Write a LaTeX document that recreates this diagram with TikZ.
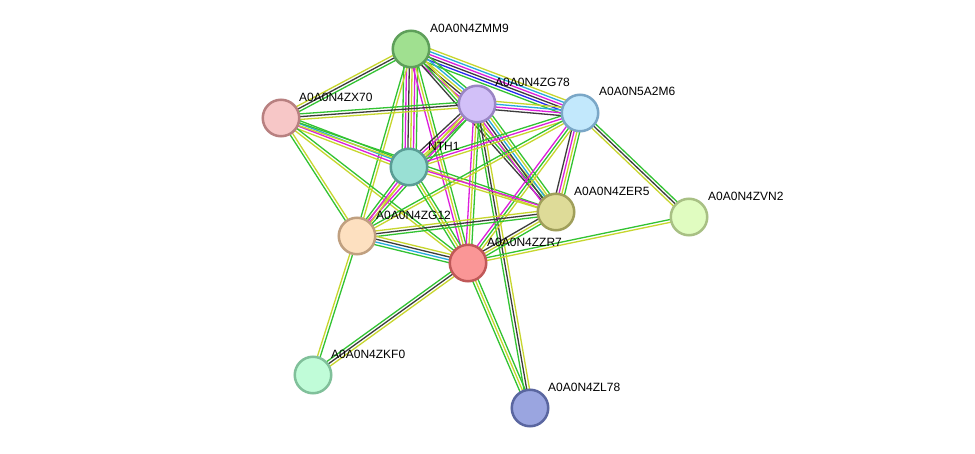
\documentclass[tikz,border=0pt]{standalone}
\usepackage{fontspec}
\setmainfont{Liberation Sans}
\usetikzlibrary{calc}
\pgfdeclarelayer{bg}
\pgfdeclarelayer{paper}
\pgfsetlayers{paper,bg,main}
\definecolor{tm}{RGB}{199,214,45}
\definecolor{gr}{RGB}{50,195,50}
\definecolor{bk}{RGB}{60,60,60}
\definecolor{mg}{RGB}{220,30,220}
\definecolor{cy}{RGB}{40,170,220}
\definecolor{bl}{RGB}{40,40,240}
\newcounter{ecnt}
\newcommand\stredge[3]{%
  \setcounter{ecnt}{0}%
  \foreach \c in {#3}{\stepcounter{ecnt}}%
  \edef\ntot{\theecnt}%
  \foreach \c [count=\i] in {#3}{%
    \pgfmathsetmacro\off{(\i-(\ntot+1)/2)*2.8}%
    \draw[\c, edgeline] ($(#1.center)!\off pt!90:(#2.center)$) -- ($(#2.center)!\off pt!-90:(#1.center)$);
  }%
}
\tikzset{
  edgeline/.style={line width=1.3pt},
  prot/.style={circle, minimum size=36.5pt, inner sep=0pt, line width=2.5pt},
  plabel/.style={anchor=west, inner sep=0pt, font=\fontsize{12}{14}\selectfont}
}
\begin{document}
\begin{tikzpicture}[x=1pt,y=-1pt]
\begin{pgfonlayer}{paper}
\fill[white] (0,0) rectangle (975,454);
\end{pgfonlayer}
\useasboundingbox (0,0) rectangle (975,454);
% nodes
\node[prot, fill={rgb,255:red,160;green,224;blue,144}, draw={rgb,255:red,94;green,159;blue,90}] (M) at (411,49) {};
\node[prot, fill={rgb,255:red,210;green,192;blue,248}, draw={rgb,255:red,154;green,133;blue,196}] (G78) at (477,104) {};
\node[prot, fill={rgb,255:red,194;green,232;blue,252}, draw={rgb,255:red,122;green,167;blue,199}] (A6) at (580,113) {};
\node[prot, fill={rgb,255:red,247;green,199;blue,199}, draw={rgb,255:red,184;green,128;blue,128}] (X70) at (281,118) {};
\node[prot, fill={rgb,255:red,153;green,224;blue,212}, draw={rgb,255:red,90;green,157;blue,149}] (N) at (409,167) {};
\node[prot, fill={rgb,255:red,222;green,219;blue,152}, draw={rgb,255:red,160;green,159;blue,90}] (E5) at (556,212) {};
\node[prot, fill={rgb,255:red,224;green,252;blue,192}, draw={rgb,255:red,168;green,192;blue,132}] (V2) at (689,217) {};
\node[prot, fill={rgb,255:red,253;green,224;blue,192}, draw={rgb,255:red,192;green,160;blue,128}] (G12) at (357,236) {};
\node[prot, fill={rgb,255:red,250;green,150;blue,150}, draw={rgb,255:red,192;green,88;blue,88}] (R7) at (468,263) {};
\node[prot, fill={rgb,255:red,192;green,252;blue,216}, draw={rgb,255:red,128;green,192;blue,154}] (K0) at (313,375) {};
\node[prot, fill={rgb,255:red,154;green,165;blue,224}, draw={rgb,255:red,90;green,102;blue,160}] (L78) at (530,408) {};
% labels
\node[plabel] (lM) at (430,28) {A0A0N4ZMM9};
\node[plabel] (lG78) at (495,82) {A0A0N4ZG78};
\node[plabel] (lA6) at (599,91) {A0A0N5A2M6};
\node[plabel] (lX70) at (299,97) {A0A0N4ZX70};
\node[plabel] (lN) at (428,146) {NTH1};
\node[plabel] (lE5) at (574,191) {A0A0N4ZER5};
\node[plabel] (lV2) at (708,196) {A0A0N4ZVN2};
\node[plabel] (lG12) at (376,215) {A0A0N4ZG12};
\node[plabel] (lR7) at (487,242) {A0A0N4ZZR7};
\node[plabel] (lK0) at (331,354) {A0A0N4ZKF0};
\node[plabel] (lL78) at (548,387) {A0A0N4ZL78};
% edges
\begin{pgfonlayer}{bg}
\stredge{M}{X70}{tm,bk,gr}
\stredge{M}{A6}{gr,bl,bk,mg,cy,tm}
\stredge{M}{G78}{mg,bk,tm,cy,gr}
\stredge{M}{N}{gr,mg,bk,tm,mg,gr}
\stredge{M}{G12}{gr,tm}
\stredge{M}{R7}{mg,tm,gr}
\stredge{M}{E5}{bk,gr,tm}
\stredge{X70}{G78}{tm,bk,gr}
\stredge{X70}{N}{tm,mg,cy,gr}
\stredge{X70}{E5}{tm,gr}
\stredge{X70}{G12}{gr,tm}
\stredge{X70}{R7}{tm,gr}
\stredge{G78}{A6}{bk,mg,cy,tm}
\stredge{G78}{N}{bk,mg,tm,gr}
\stredge{G78}{E5}{mg,bk,cy,tm,gr}
\stredge{G78}{R7}{mg,tm,gr}
\stredge{G78}{L78}{gr,bk,tm}
\stredge{G78}{G12}{tm,mg,gr}
\stredge{A6}{N}{gr,mg,tm}
\stredge{A6}{E5}{bk,mg,tm,gr}
\stredge{A6}{R7}{mg,gr,tm}
\stredge{A6}{G12}{gr,tm}
\stredge{A6}{V2}{tm,bk,gr}
\stredge{N}{E5}{tm,mg}
\stredge{N}{G12}{gr,mg,tm}
\stredge{N}{R7}{gr,tm,gr}
\stredge{E5}{G12}{tm,bk,gr}
\stredge{E5}{R7}{bk,tm,gr}
\stredge{G12}{R7}{gr,cy,bk,tm}
\stredge{G12}{K0}{tm,gr}
\stredge{R7}{K0}{gr,bk,tm}
\stredge{R7}{V2}{tm,gr}
\stredge{R7}{L78}{gr,tm,gr}
\end{pgfonlayer}
\end{tikzpicture}
\end{document}
